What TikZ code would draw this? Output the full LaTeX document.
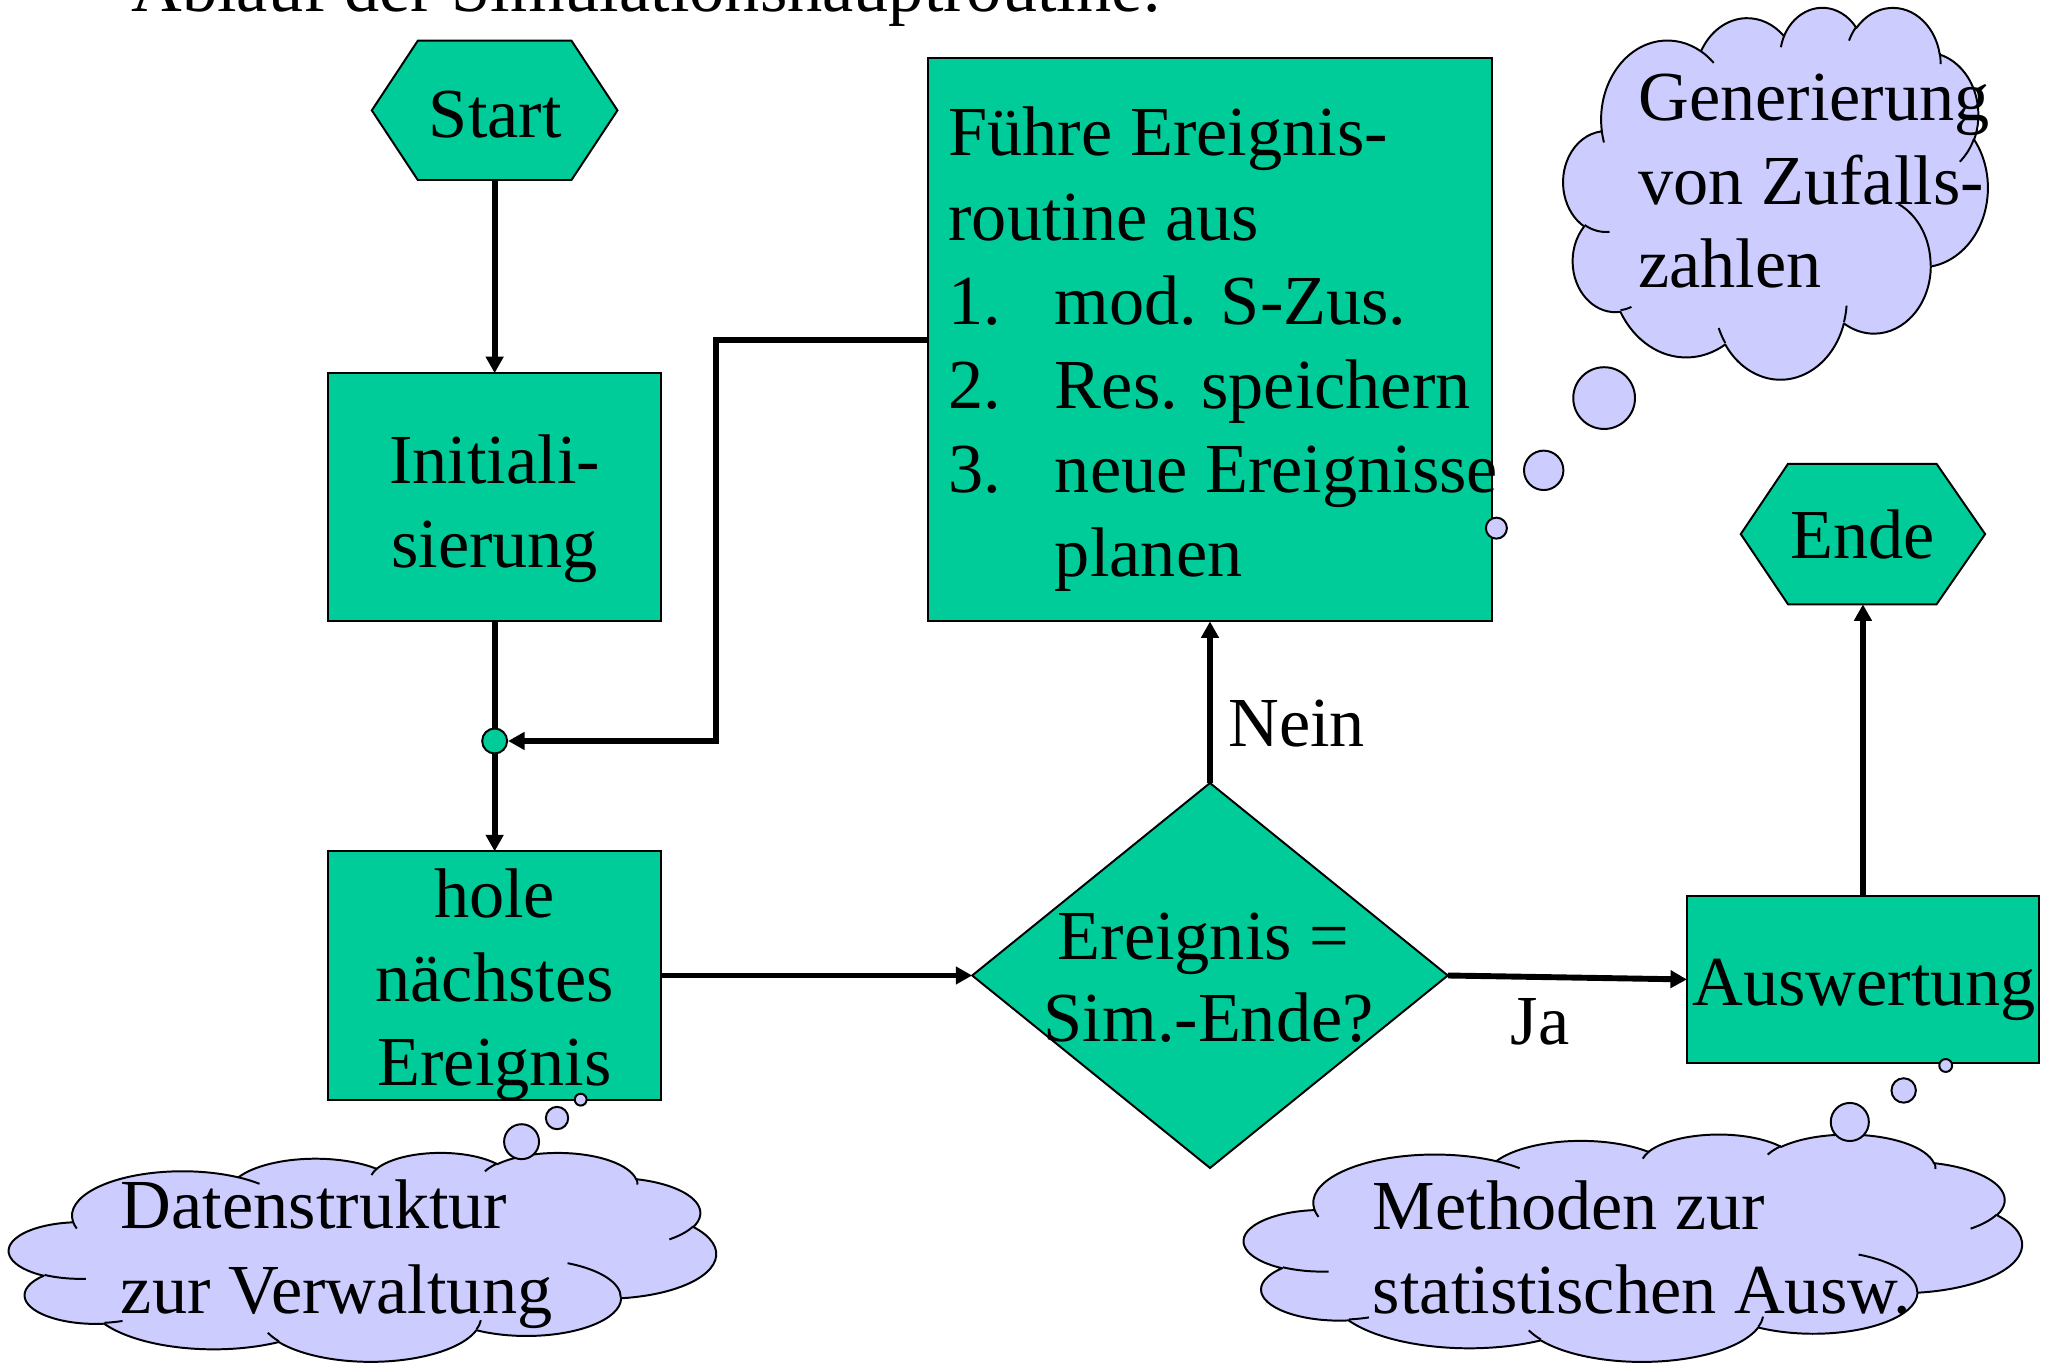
\documentclass[tikz,border=0pt]{standalone}
\usepackage{fontspec}
\setmainfont{Liberation Serif}
\usetikzlibrary{arrows.meta,shapes.geometric}

\definecolor{boxgreen}{RGB}{0,204,153}
\definecolor{cloudblue}{RGB}{204,204,255}

% one puff of a cloud outline: radii (in 1/43200 of the frame), start angle and sweep (visual degrees)
\newcommand\cloudarc[4]{%
  \pgfmathsetmacro\cloudrw{#1/10800/4}%
  \pgfmathsetmacro\cloudrh{#2/10800/4}%
  \pgfmathsetmacro\cloudta{atan2(#1*sin(#3),#2*cos(#3))}%
  \pgfmathsetmacro\cloudtb{atan2(#1*sin(#3+#4),#2*cos(#3+#4))}%
  \pgfmathsetmacro\clouddt{\cloudtb-\cloudta}%
  \pgfmathsetmacro\clouddt{\clouddt-360*round((\clouddt-(#4))/360)}%
  \pgfmathsetmacro\cloudtb{\cloudta+\clouddt}%
  \pgfpatharcaxes{\cloudta}{\cloudtb}{\pgfpointxy{\cloudrw}{0}}{\pgfpointxy{0}{\cloudrh}}%
}
\newcommand\cloudoutline{%
  \pgfpathmoveto{\pgfpointxy{0.090278}{0.332639}}%
  \cloudarc{6753}{9190}{-190.48748}{123.78053}%
  \cloudarc{5333}{7267}{-144.10238}{89.94523}%
  \cloudarc{4365}{5945}{-145.80792}{99.72302}%
  \cloudarc{4857}{6595}{-130.98607}{117.24173}%
  \cloudarc{5333}{7273}{-78.70888}{109.02692}%
  \cloudarc{6775}{9220}{-46.26725}{130.269}%
  \cloudarc{5785}{7867}{0.62502}{114.03333}%
  \cloudarc{6752}{9215}{22.4516}{115.17255}%
  \cloudarc{7720}{10543}{66.24263}{75.71102}%
  \cloudarc{4360}{5918}{-274.94208}{146.73557}%
  \cloudarc{4345}{5945}{-246.8285}{152.51885}%
  \pgfpathclose}
\newcommand\cloudcreases{%
  \pgfpathmoveto{\pgfpointxy{0.108634}{0.605949}}\cloudarc{4345}{5945}{86.742}{26.4295}%
  \pgfpathmoveto{\pgfpointxy{0.160370}{0.807847}}\cloudarc{4360}{5918}{73.61047}{11.44747}%
  \pgfpathmoveto{\pgfpointxy{0.381435}{0.904861}}\cloudarc{6752}{9215}{137.62415}{14.0811}%
  \pgfpathmoveto{\pgfpointxy{0.667292}{0.804421}}\cloudarc{6752}{9215}{6.45327}{15.99835}%
  \pgfpathmoveto{\pgfpointxy{0.790023}{0.531343}}\cloudarc{5785}{7867}{-70.29235}{70.91737}%
  \pgfpathmoveto{\pgfpointxy{0.967546}{0.355417}}\cloudarc{5333}{7273}{30.31803}{27.7515}%
  \pgfpathmoveto{\pgfpointxy{0.887130}{0.125602}}\cloudarc{4857}{6595}{-13.74433}{14.8589}%
  \pgfpathmoveto{\pgfpointxy{0.673102}{0.091481}}\cloudarc{4857}{6595}{-149.18145}{18.19537}%
  \pgfpathmoveto{\pgfpointxy{0.512523}{0.109259}}\cloudarc{4365}{5945}{-163.49427}{17.68635}%
  \pgfpathmoveto{\pgfpointxy{0.324074}{0.120185}}\cloudarc{6753}{9190}{-66.70695}{12.31935}%
  \pgfpathmoveto{\pgfpointxy{0.095532}{0.365486}}\cloudarc{6753}{9190}{157.65435}{11.85817}%
}
% cloud in the frame with top-left corner (#1,#2), width #3, height #4
\newcommand\cloudshape[4]{%
  \begin{scope}[shift={(#1,#2)}, x={(#3pt,0pt)}, y={(0pt,-#4pt)}]
    \pgfsetlinewidth{1.5pt}\pgfsetroundjoin
    \pgfsetfillcolor{cloudblue}\pgfsetstrokecolor{black}
    \cloudoutline\pgfusepath{fill,stroke}
    \cloudcreases\pgfusepath{stroke}
  \end{scope}}

\begin{document}
\begin{tikzpicture}[x=1pt,y=-1pt,
  txt/.style={font=\fontsize{53.5}{64}\selectfont, inner sep=0pt, outer sep=0pt},
  procbox/.style={draw=black, line width=1.5pt, fill=boxgreen, inner sep=0pt, outer sep=0pt},
  frame/.style={inner sep=0pt, outer sep=0pt},
  shapeline/.style={draw=black, line width=1.5pt, fill=boxgreen, line join=miter},
  conn/.style={line width=4.5pt, -{Triangle[length=12.5pt,width=13pt]}},
  plainconn/.style={line width=4.5pt},
  bubble/.style={circle, draw=black, line width=1.5pt, fill=cloudblue, inner sep=0pt}]

\useasboundingbox (0,0) rectangle (1568,1037);

% process boxes
\node[procbox, minimum width=430pt, minimum height=429pt] (fuehre) at (921,258.5) {};
\node[procbox, minimum width=253pt, minimum height=189pt] (init) at (376.5,378.5) {};
\node[procbox, minimum width=253pt, minimum height=189pt] (hole) at (376.5,742.5) {};
\node[procbox, minimum width=268pt, minimum height=127pt] (ausw) at (1418,745.5) {};

% terminals
\node[frame, minimum width=187pt, minimum height=106pt] (start) at (376.5,84) {};
\draw[shapeline] (start.west) -- ([xshift=35pt]start.north west) -- ([xshift=-35pt]start.north east)
  -- (start.east) -- ([xshift=-35pt]start.south east) -- ([xshift=35pt]start.south west) -- cycle;
\node[frame, minimum width=186pt, minimum height=107pt] (ende) at (1418,406.5) {};
\draw[shapeline] (ende.west) -- ([xshift=36pt]ende.north west) -- ([xshift=-37pt]ende.north east)
  -- (ende.east) -- ([xshift=-37pt]ende.south east) -- ([xshift=36pt]ende.south west) -- cycle;

% decision
\node[frame, minimum width=362pt, minimum height=293pt] (dec) at (921,742.5) {};
\draw[shapeline] (dec.west) -- (dec.north) -- (dec.east) -- (dec.south) -- cycle;

% junction
\node[circle, draw=black, line width=1.5pt, fill=boxgreen, minimum size=19pt, inner sep=0pt] (junc) at (376.5,564) {};

% connectors
\draw[conn] (start.south) -- (init.north);
\draw[plainconn] (init.south) -- (junc.north);
\draw[conn, line join=miter] (fuehre.west) -- ++(-161,0) |- (junc.east);
\draw[conn] (junc.south) -- (hole.north);
\draw[conn] (hole.east) -- (dec.west);
\draw[conn] (dec.north) -- (fuehre.south);
\draw[conn] (dec.east) -- (ausw.west);
\draw[conn] (ausw.north) -- (ende.south);

% thought clouds
\cloudshape{1190}{5}{323}{283}
\cloudshape{7}{877}{538}{159}
\cloudshape{947}{863}{592}{173}
\node[bubble, minimum size=47pt] (c1b1) at (1221,303) {};
\node[bubble, minimum size=30pt] (c1b2) at (1175,358) {};
\node[bubble, minimum size=16pt] (c1b3) at (1139,402) {};
\node[bubble, minimum size=26.6pt] (c2b1) at (397,869) {};
\node[bubble, minimum size=17pt] (c2b2) at (424,851) {};
\node[bubble, minimum size=9pt] (c2b3) at (442,837) {};
\node[bubble, minimum size=29pt] (c3b1) at (1408,854) {};
\node[bubble, minimum size=18.6pt] (c3b2) at (1449,830) {};
\node[bubble, minimum size=9.8pt] (c3b3) at (1481,811) {};

% texts
\node[txt, anchor=base west] (title) at (100,9) {Ablauf der Simulationshauptroutine:};
\node[txt, anchor=base] (tstart) at (377,105) {Start};
\node[txt, anchor=base] (tende) at (1418,425) {Ende};
\node[txt, anchor=base] (tinit1) at (376.5,368) {Initiali-};
\node[txt, anchor=base] (tinit2) at (376.5,432) {sierung};
\node[txt, anchor=base west] (tf1) at (722,118) {Führe Ereignis-};
\node[txt, anchor=base west] (tf2) at (722,183) {routine aus};
\node[txt, anchor=base west] (tf3n) at (722,247) {1.};
\node[txt, anchor=base west] (tf3) at (803,247) {mod. S-Zus.};
\node[txt, anchor=base west] (tf4n) at (722,311) {2.};
\node[txt, anchor=base west] (tf4) at (803,311) {Res. speichern};
\node[txt, anchor=base west] (tf5n) at (722,375) {3.};
\node[txt, anchor=base west] (tf5) at (803,375) {neue Ereignisse};
\node[txt, anchor=base west] (tf6) at (803,439) {planen};
\node[txt, anchor=base] (th1) at (376.5,698) {hole};
\node[txt, anchor=base] (th2) at (376.5,762) {nächstes};
\node[txt, anchor=base] (th3) at (376.5,826) {Ereignis};
\node[txt, anchor=base] (td1) at (916,730) {Ereignis =};
\node[txt, anchor=base] (td2) at (920,793) {Sim.-Ende?};
\node[txt, anchor=base west] (tnein) at (935,568) {Nein};
\node[txt, anchor=base west] (tja) at (1150,795) {Ja};
\node[txt, anchor=base] (tausw) at (1419,765) {Auswertung};
\node[txt, anchor=base west] (tc11) at (1247,92) {Generierung};
\node[txt, anchor=base west] (tc12) at (1247,156) {von Zufalls-};
\node[txt, anchor=base west] (tc13) at (1247,219) {zahlen};
\node[txt, anchor=base west] (tc21) at (92,935) {Datenstruktur};
\node[txt, anchor=base west] (tc22) at (92,1000) {zur Verwaltung};
\node[txt, anchor=base west] (tc31) at (1045,936) {Methoden zur};
\node[txt, anchor=base west] (tc32) at (1045,1000) {statistischen Ausw.};
\end{tikzpicture}
\end{document}
